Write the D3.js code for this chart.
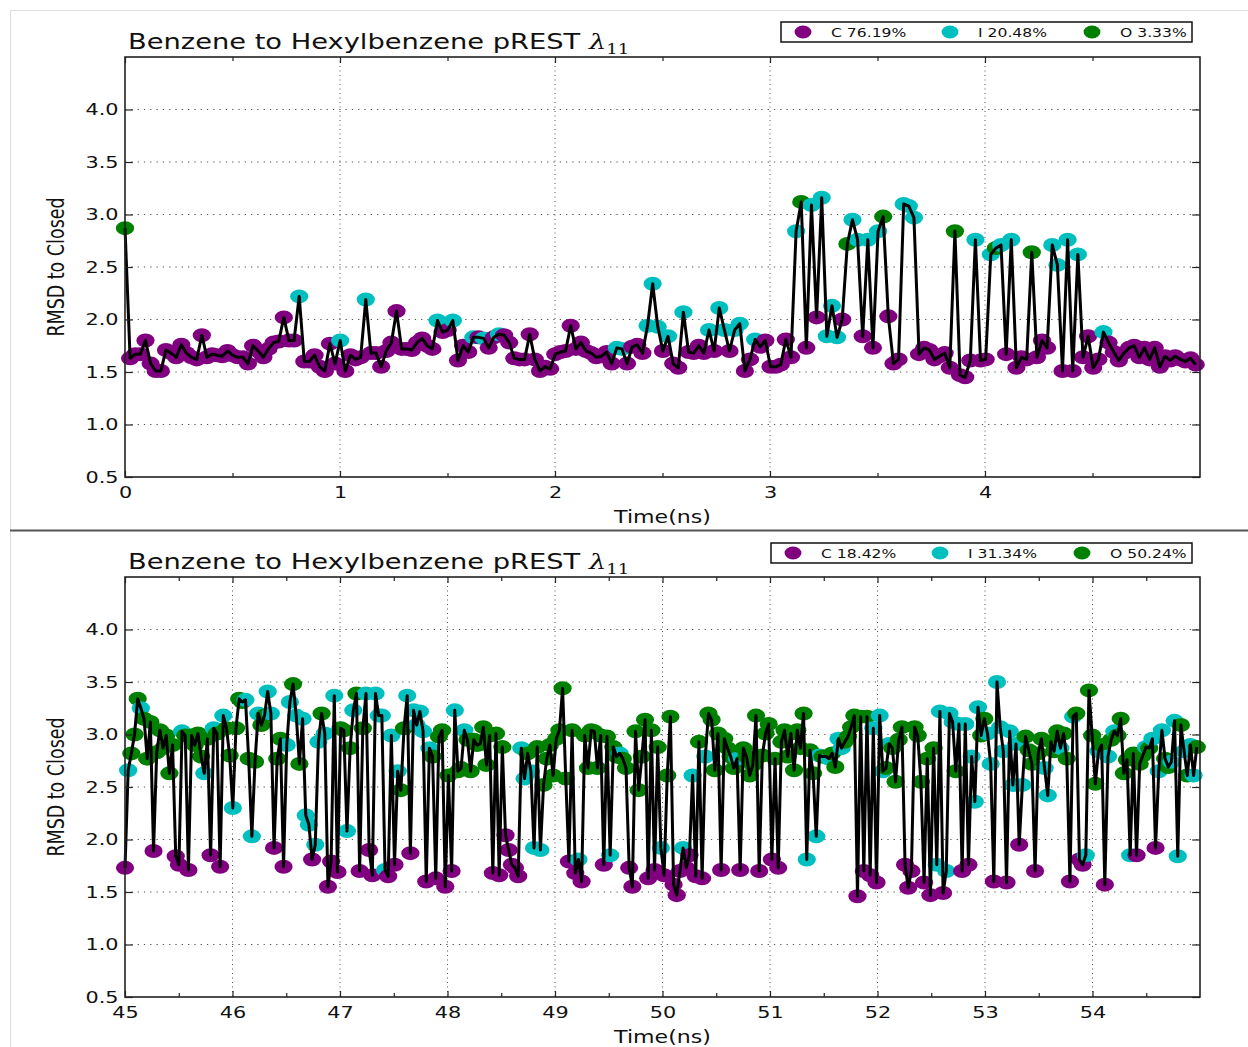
<!DOCTYPE html>
<html lang="en">
<head>
<meta charset="utf-8">
<title>Benzene to Hexylbenzene pREST</title>
<script src="https://d3js.org/d3.v7.min.js"></script>
<style>
body { margin: 0; background: #ffffff; }
text { font-family: "DejaVu Sans", sans-serif; fill: #111111; }
</style>
</head>
<body>
<div id="chart"></div>
<script>
// ---- data ----
var stateKeys = ["C", "I", "O"];
var stateColors = ["#800080", "#00bfbf", "#008000"];
var yTicks = [0.5, 1.0, 1.5, 2.0, 2.5, 3.0, 3.5, 4.0];

// panel 1 : 0 - 5 ns
var topTicks = [0, 0.5, 1, 1.5, 2, 2.5, 3, 3.5, 4, 4.5];
var topTimeRange = [0, 4.98];
var topLegend = ["C 76.19%", "I 20.48%", "O 3.33%"];
var topRmsd = [
  2.87,1.63,1.67,1.67,1.80,1.58,1.51,1.51,1.71,1.68,
  1.64,1.76,1.68,1.64,1.62,1.85,1.64,1.67,1.66,1.65,
  1.70,1.66,1.64,1.64,1.58,1.75,1.70,1.64,1.72,1.78,
  1.79,2.02,1.80,1.80,2.22,1.60,1.60,1.66,1.55,1.51,
  1.77,1.58,1.80,1.51,1.66,1.62,1.64,2.19,1.68,1.68,
  1.55,1.70,1.78,2.08,1.72,1.72,1.71,1.78,1.82,1.75,
  1.72,1.99,1.88,1.90,1.99,1.61,1.75,1.69,1.83,1.83,
  1.82,1.73,1.83,1.86,1.85,1.78,1.63,1.62,1.62,1.86,
  1.62,1.51,1.55,1.53,1.67,1.69,1.70,1.94,1.72,1.78,
  1.70,1.68,1.64,1.65,1.69,1.58,1.73,1.72,1.58,1.74,
  1.76,1.68,1.94,2.34,1.93,1.70,1.84,1.58,1.54,2.07,
  1.69,1.68,1.75,1.68,1.90,1.70,2.11,1.90,1.70,1.90,
  1.96,1.51,1.62,1.81,1.74,1.80,1.55,1.55,1.57,1.81,
  1.64,2.84,3.12,1.73,3.09,2.02,3.16,1.84,2.13,1.83,
  2.00,2.72,2.95,2.76,1.84,2.76,1.73,2.84,2.98,2.03,
  1.58,1.62,3.10,3.08,2.97,1.67,1.73,1.71,1.62,1.65,
  1.68,1.54,2.84,1.47,1.45,1.61,2.76,1.61,1.62,2.62,
  2.68,2.71,1.67,2.76,1.54,1.64,1.62,2.64,1.64,1.80,
  1.73,2.71,2.52,1.51,2.76,1.51,2.62,1.64,1.84,1.54,
  1.62,1.88,1.78,1.69,1.61,1.68,1.73,1.75,1.64,1.73,
  1.62,1.73,1.55,1.65,1.61,1.65,1.62,1.60,1.63,1.57
];
var topState = [
  "OCCCCCCCCC","CCCCCCCCCC","CCCCCCCCCC","CCCCICCCCC","CCICCCCICC",
  "CCCCCCCCCC","CICCICCCIC","ICCICCCCCC","CCCCCCCCCC","CCCCCCIICC",
  "CCIIICICCI","CCCCICIICI","ICCICCCCCC","CIOCICIIII","COIICICIOC",
  "CCIIICCCCC","CCOCCCICCI","OICICCCOCC","CIICICICCC","CICCCCCCCC",
  "CCCCCCCCCC"
].join("").split("");

// panel 2 : 45 - 55 ns
var bottomTicks = [45, 45.5, 46, 46.5, 47, 47.5, 48, 48.5, 49, 49.5, 50, 50.5,
                   51, 51.5, 52, 52.5, 53, 53.5, 54, 54.5];
var bottomTimeRange = [45, 54.97];
var bottomLegend = ["C 18.42%", "I 31.34%", "O 50.24%"];
var bottomRmsd = [
  1.73,2.66,2.82,3.00,3.34,3.25,3.15,2.77,3.12,1.89,
  2.83,3.04,2.87,2.99,2.63,2.90,1.84,1.76,3.03,2.99,
  1.71,2.99,2.90,3.01,2.79,2.63,2.96,1.85,3.06,3.01,
  1.74,3.18,3.06,2.80,2.30,3.06,3.34,3.31,3.33,2.77,
  2.03,2.74,3.20,3.09,3.18,3.41,3.20,1.92,2.77,2.96,
  1.74,2.90,3.31,3.48,3.18,2.72,3.15,2.23,2.14,1.81,
  1.95,2.93,3.20,3.01,1.55,1.79,3.37,1.69,3.06,3.04,
  2.08,2.87,3.23,3.39,1.70,3.06,3.39,1.90,1.66,3.39,
  3.18,3.18,1.71,1.65,2.99,1.76,2.65,2.47,3.06,3.37,
  1.87,
  3.23,3.09,3.22,3.03,1.60,2.87,2.79,1.63,2.98,3.04,
  1.55,2.61,1.70,3.23,2.65,2.68,3.04,2.95,2.65,2.95,
  2.90,2.91,3.07,2.71,2.99,1.68,3.01,1.66,2.88,2.04,
  1.90,1.76,1.73,1.65,2.87,2.58,2.82,2.65,1.92,2.88,
  1.90,2.52,2.77,2.90,2.61,2.96,3.04,3.44,2.58,1.79,
  3.04,1.68,1.81,1.60,2.99,2.68,3.04,3.03,2.68,2.99,
  1.76,2.98,1.85,2.88,2.79,2.82,2.77,2.68,1.73,1.55,
  3.03,2.47,2.79,3.14,1.63,3.04,1.71,2.88,1.92,1.66,
  2.61,3.17,1.57,
  1.47,1.70,1.92,1.73,1.85,2.61,1.65,2.93,1.63,2.79,
  3.20,3.14,2.66,3.01,1.71,2.96,2.87,2.79,2.68,2.77,
  1.71,2.87,2.79,2.61,2.71,3.18,1.70,2.80,3.01,3.10,
  1.81,2.77,1.73,2.93,3.04,2.79,3.01,2.66,3.04,2.87,
  3.20,1.81,2.85,2.63,2.03,2.80,2.79,2.79,2.77,2.82,
  2.69,2.96,2.87,2.93,2.98,3.07,3.18,1.46,3.17,1.70,
  3.17,1.66,3.06,1.59,3.18,2.65,2.68,2.91,2.87,2.55,
  2.95,3.07,1.76,1.54,1.70,3.07,2.99,2.55,1.59,2.77,
  1.47,2.87,1.76,3.22,
  1.49,1.70,3.20,3.12,2.65,3.10,1.70,3.10,1.76,2.79,
  2.36,3.26,2.99,3.15,3.01,2.72,1.60,3.50,3.07,2.84,
  1.59,3.03,2.52,2.91,1.95,2.52,2.98,2.85,2.72,1.70,
  2.82,2.96,2.68,2.42,2.93,2.84,3.03,2.87,3.01,2.77,
  1.60,3.17,3.20,1.81,1.76,1.85,3.42,2.99,2.53,2.84,
  2.90,1.57,2.79,2.95,3.03,2.99,3.15,2.63,2.76,1.85,
  2.82,1.85,2.72,2.80,2.88,2.87,2.96,1.92,2.65,3.04,
  2.77,2.69,2.74,3.13,1.84,3.09,2.84,2.61,2.90,2.61,
  2.88
];
var bottomState = [
  "CIOOOIOOOC","OOOOOOCCIO","COOOOIOCIO","CIOOIOOOIO","IOIOOIICOO",
  "CIIOIOIIIC","IIOICCICOO","IOIOCOICCI","IIICICIOOI","C",
  "IIIICIOCOO","COCIOOIOOO","OOOOOCOCOC","CCCCIIOIIO","IOOOOOOOOC",
  "OCICOOOOOO","COIOOIOOCC","OOOOCOCOIC","OOC",
  "CCICCICOCI","OOOOCOOOOI","COOOOOCOOO","COCOOOOOOO","OIOOIIOOIO",
  "OIIOOOOCOC","OCICIIOIOO","OOCCCOOOCO","COII",
  "CIIIOICICI","IIOOIICIII","CIIICIOOOC","OOIIOOOIOO","CIOCCIOOOI",
  "OCIOIOOOOI","OCOOIOICII","OOIIIOIOII","O"
].join("").split("");

// ---- drawing ----
var W = 1248, H = 1047;
var SX = 1.3;            // the figure is stretched horizontally
var plotLeft = 125, plotRight = 1200, plotH = 420;

var svg = d3.select("#chart").append("svg")
  .attr("width", W).attr("height", H);

var color = d3.scaleOrdinal().domain(stateKeys).range(stateColors);

// page border and separator
svg.append("line").attr("x1", 10).attr("x2", W).attr("y1", 10.5).attr("y2", 10.5)
  .attr("stroke", "#dddddd").attr("stroke-width", 1);
svg.append("line").attr("x1", 10.5).attr("x2", 10.5).attr("y1", 10).attr("y2", H)
  .attr("stroke", "#dddddd").attr("stroke-width", 1);
svg.append("line").attr("x1", 10).attr("x2", W).attr("y1", 530.5).attr("y2", 530.5)
  .attr("stroke", "#555555").attr("stroke-width", 2);

function stretched(parent, x, y, size) {
  return parent.append("g")
    .attr("transform", "translate(" + x + "," + y + ") scale(" + SX + ",1)")
    .append("text")
    .style("font-size", size + "px");
}

function drawPanel(o) {
  var top = o.top;
  var x = d3.scaleLinear().domain(o.xDomain).range([plotLeft, plotRight]);
  var y = d3.scaleLinear().domain([0.5, 4.5]).range([top + plotH, top]);
  var g = svg.append("g");

  // dotted grid at the major ticks
  g.selectAll(".gridx").data(o.ticks.filter(function (d) { return d % 1 === 0 && d > o.xDomain[0]; }))
    .enter().append("line")
    .attr("x1", function (d) { return x(d); }).attr("x2", function (d) { return x(d); })
    .attr("y1", y(4.5)).attr("y2", y(0.5))
    .attr("stroke", "#555").attr("stroke-width", 1).attr("stroke-dasharray", "1,3.5");
  g.selectAll(".gridy").data(yTicks.slice(1)).enter().append("line")
    .attr("x1", plotLeft).attr("x2", plotRight)
    .attr("y1", function (d) { return y(d); }).attr("y2", function (d) { return y(d); })
    .attr("stroke", "#555").attr("stroke-width", 1).attr("stroke-dasharray", "1.3,5");

  var n = o.values.length;
  var step = (o.timeRange[1] - o.timeRange[0]) / (n - 1);
  var pts = o.values.map(function (v, i) {
    return { t: o.timeRange[0] + i * step, v: v, s: o.states[i] || "C" };
  });

  g.selectAll(".mark").data(pts).enter().append("ellipse")
    .attr("cx", function (d) { return x(d.t); })
    .attr("cy", function (d) { return y(d.v); })
    .attr("rx", 7 * SX).attr("ry", 7)
    .attr("fill", function (d) { return color(d.s); });

  g.append("path").datum(pts)
    .attr("d", d3.line().x(function (d) { return x(d.t); }).y(function (d) { return y(d.v); }))
    .attr("fill", "none").attr("stroke", "#000").attr("stroke-width", 3)
    .attr("stroke-linejoin", "round");

  // frame
  g.append("rect").attr("x", plotLeft).attr("y", top)
    .attr("width", plotRight - plotLeft).attr("height", plotH)
    .attr("fill", "none").attr("stroke", "#222").attr("stroke-width", 1.6);

  // axes with inward ticks
  function tickLen(d) { return d % 1 === 0 ? 6 : 4; }
  var xb = g.append("g").attr("transform", "translate(0," + (top + plotH) + ")")
    .call(d3.axisBottom(x).tickValues(o.ticks).tickSize(-6).tickPadding(10)
      .tickFormat(function (d) { return d % 1 === 0 ? d3.format("d")(d) : ""; }));
  xb.selectAll(".tick line").attr("y2", function (d) { return -tickLen(d); });
  var xt = g.append("g").attr("transform", "translate(0," + top + ")")
    .call(d3.axisTop(x).tickValues(o.ticks).tickSize(-6).tickFormat(""));
  xt.selectAll(".tick line").attr("y2", function (d) { return tickLen(d); });
  var yl = g.append("g").attr("transform", "translate(" + plotLeft + ",0)")
    .call(d3.axisLeft(y).tickValues(yTicks).tickSize(-6 * SX).tickPadding(5)
      .tickFormat(d3.format(".1f")));
  g.append("g").attr("transform", "translate(" + plotRight + ",0)")
    .call(d3.axisRight(y).tickValues(yTicks).tickSize(-6 * SX).tickFormat(""));
  g.selectAll(".domain").remove();
  g.selectAll(".tick line").attr("stroke", "#222").attr("stroke-width", 1.2);
  g.selectAll(".tick text")
    .attr("transform", "scale(" + SX + ",1)")
    .style("font-family", "DejaVu Sans, sans-serif")
    .style("font-size", "16px").attr("fill", "#111");
  yl.selectAll(".tick text").attr("x", -5);

  // title
  var title = stretched(g, 128, top - 8.5, 21);
  title.append("tspan").text("Benzene to Hexylbenzene pREST ");
  title.append("tspan").style("font-family", "DejaVu Serif, serif")
    .style("font-style", "italic").text("\u03bb");
  title.append("tspan").style("font-family", "DejaVu Serif, serif")
    .style("font-size", "14px").attr("dy", 5).text("11");

  // axis labels
  stretched(g, (plotLeft + plotRight) / 2, top + plotH + 46, 17)
    .attr("text-anchor", "middle").text("Time(ns)");
  svg.append("g")
    .attr("transform", "translate(64," + (top + plotH / 2) + ") scale(" + SX + ",1) rotate(-90)")
    .append("text").attr("text-anchor", "middle").style("font-size", "17.5px")
    .text("RMSD to Closed");

  // legend
  var lg = g.append("g");
  lg.append("rect").attr("x", o.legend.x0).attr("y", o.legend.y)
    .attr("width", 1192 - o.legend.x0).attr("height", 20)
    .attr("fill", "#fff").attr("stroke", "#111").attr("stroke-width", 1.5);
  stateKeys.forEach(function (k, i) {
    var mx = o.legend.marks[i];
    lg.append("ellipse").attr("cx", mx).attr("cy", o.legend.y + 10)
      .attr("rx", 6.5 * SX).attr("ry", 6.5).attr("fill", color(k));
    stretched(lg, mx + 28, o.legend.y + 14.5, 12).text(o.legend.labels[i]);
  });
}

drawPanel({
  top: 57, xDomain: [0, 5], ticks: topTicks, timeRange: topTimeRange,
  values: topRmsd, states: topState,
  legend: { x0: 781, y: 22, marks: [803, 950, 1092], labels: topLegend }
});
drawPanel({
  top: 577, xDomain: [45, 55], ticks: bottomTicks, timeRange: bottomTimeRange,
  values: bottomRmsd, states: bottomState,
  legend: { x0: 771, y: 543, marks: [793, 940, 1082], labels: bottomLegend }
});
</script>
</body>
</html>
